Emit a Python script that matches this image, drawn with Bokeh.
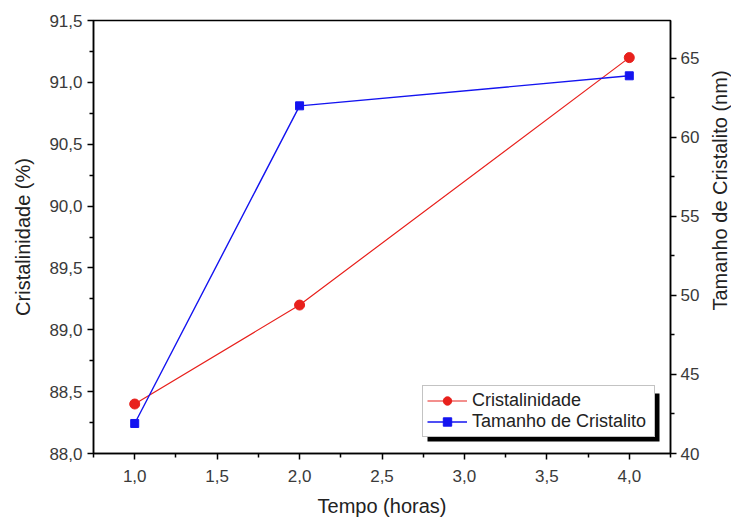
import math
from bokeh.plotting import figure
from bokeh.layouts import row
from bokeh.models import (Range1d, LinearAxis, FixedTicker, CustomJSTickFormatter,
                          Legend, LegendItem, BoxAnnotation, Label)
from bokeh.embed import file_html
from bokeh.resources import INLINE

tempo = [1.0, 2.0, 4.0]
cristalinidade = [88.4, 89.2, 91.2]
tamanho = [41.9, 62.0, 63.9]

x_ticks = [1.0, 1.5, 2.0, 2.5, 3.0, 3.5, 4.0]
left_ticks = [88.0, 88.5, 89.0, 89.5, 90.0, 90.5, 91.0, 91.5]
right_ticks = [40, 45, 50, 55, 60, 65]

FONT = "Liberation Sans"
RED = "#e8201c"
BLUE = "#1414f0"

p = figure(width=708, height=520, output_backend="svg", toolbar_location=None,
           x_range=Range1d(0.75, 4.25), y_range=Range1d(88.0, 91.5),
           min_border_left=93, min_border_right=38, min_border_top=20, min_border_bottom=67)
p.extra_y_ranges = {"right": Range1d(40, 67.4)}
p.grid.visible = False
p.outline_line_color = "black"
p.outline_line_width = 1.5
p.background_fill_color = "white"

one_dec = CustomJSTickFormatter(code="return tick.toFixed(1).replace('.', ',');")

def style(ax):
    ax.axis_line_width = 1.5
    ax.major_tick_line_width = 1.5
    ax.minor_tick_line_width = 1.5
    ax.major_tick_out = 6
    ax.major_tick_in = 0
    ax.minor_tick_out = 4
    ax.minor_tick_in = 0
    ax.major_label_text_font = FONT
    ax.major_label_text_font_size = "17px"
    ax.major_label_text_color = "#3a3a3a"
    ax.axis_label_text_font = FONT
    ax.axis_label_text_font_size = "20px"
    ax.axis_label_text_font_style = "normal"
    ax.axis_label_text_color = "#222222"

xa = p.xaxis[0]
xa.ticker = FixedTicker(ticks=x_ticks, minor_ticks=[0.75 + 0.5 * i for i in range(8)])
xa.formatter = one_dec
xa.axis_label = "Tempo (horas)"
style(xa)
xa.major_label_standoff = 10
xa.axis_label_standoff = 10

ya = p.yaxis[0]
ya.ticker = FixedTicker(ticks=left_ticks, minor_ticks=[88.25 + 0.5 * i for i in range(7)])
ya.formatter = one_dec
ya.axis_label = "Cristalinidade (%)"
style(ya)
ya.major_label_standoff = 5
ya.axis_label_standoff = 12

ra = LinearAxis(y_range_name="right")
ra.ticker = FixedTicker(ticks=right_ticks, minor_ticks=[42.5 + 5 * i for i in range(6)])
style(ra)
ra.major_label_standoff = 4
p.add_layout(ra, "right")

r1 = p.line(tempo, cristalinidade, line_color=RED, line_width=1.2)
c1 = p.scatter(tempo, cristalinidade, marker="circle", size=10, fill_color=RED, line_color=RED)
r2 = p.line(tempo, tamanho, line_color=BLUE, line_width=1.4, y_range_name="right")
c2 = p.scatter(tempo, tamanho, marker="square", size=8, fill_color=BLUE, line_color=BLUE,
               y_range_name="right")

shadow = BoxAnnotation(left=334, right=566, top=60, bottom=12,
                       left_units="screen", right_units="screen",
                       top_units="screen", bottom_units="screen",
                       fill_color="black", fill_alpha=1.0, line_color=None)
p.add_layout(shadow)

legend = Legend(items=[LegendItem(label="Cristalinidade", renderers=[r1, c1]),
                       LegendItem(label="Tamanho de Cristalito", renderers=[r2, c2])],
                location=(329, 16), label_text_font=FONT, label_text_font_size="18px",
                label_text_color="#222222", glyph_width=40, glyph_height=21,
                label_height=21, label_standoff=5, spacing=0, padding=4, margin=0,
                label_width=178, border_line_color="#888888", border_line_width=1,
                background_fill_color="white", background_fill_alpha=1.0)
p.add_layout(legend, "center")

# narrow side panel holding the right axis title (reads bottom-to-top)
p2 = figure(width=23, height=520, output_backend="svg", toolbar_location=None,
            x_range=Range1d(0, 1), y_range=Range1d(0, 1),
            x_axis_location=None, y_axis_location=None,
            min_border_left=0, min_border_right=0, min_border_top=0, min_border_bottom=0)
p2.grid.visible = False
p2.outline_line_color = None
p2.add_layout(Label(x=11.5, y=263, x_units="screen", y_units="screen",
                    text="Tamanho de Cristalito (nm)", angle=math.pi / 2,
                    text_align="center", text_baseline="middle",
                    text_font=FONT, text_font_size="20px", text_color="#222222"))

layout = row(p, p2, spacing=0)
open("out.html", "w").write(file_html(layout, INLINE))
